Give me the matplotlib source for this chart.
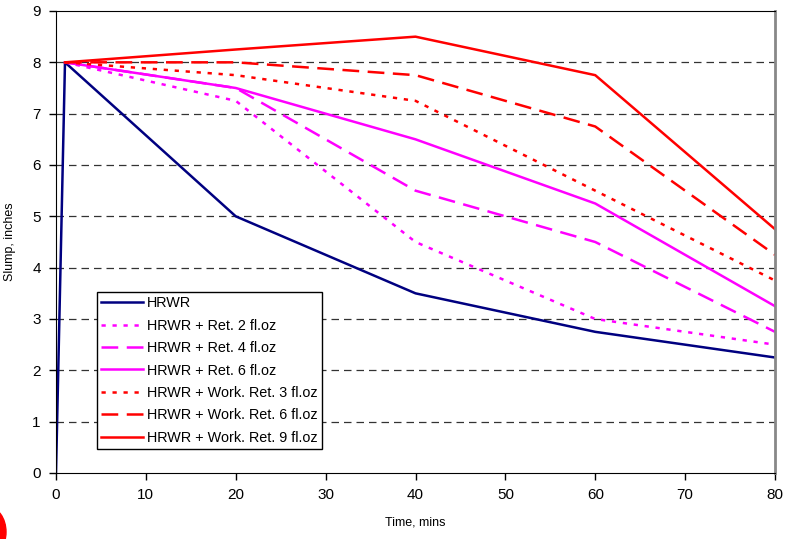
import matplotlib
matplotlib.use('Agg')
import matplotlib.pyplot as plt
from matplotlib.patches import Ellipse

plt.rcParams['font.family'] = ['Liberation Sans', 'DejaVu Sans']

# slump test data, time in minutes
hrwr_t = [0, 1, 20, 40, 60, 80]
hrwr = [0, 8, 5, 3.5, 2.75, 2.25]

t = [1, 20, 40, 60, 80]
ret2 = [8, 7.25, 4.5, 3, 2.5]
ret4 = [8, 7.5, 5.5, 4.5, 2.75]
ret6 = [8, 7.5, 6.5, 5.25, 3.25]
work3 = [8, 7.75, 7.25, 5.5, 3.75]
work6 = [8, 8, 7.75, 6.75, 4.25]
work9 = [8, 8.25, 8.5, 7.75, 4.75]

labels = ['HRWR', 'HRWR + Ret. 2 fl.oz', 'HRWR + Ret. 4 fl.oz', 'HRWR + Ret. 6 fl.oz',
          'HRWR + Work. Ret. 3 fl.oz', 'HRWR + Work. Ret. 6 fl.oz', 'HRWR + Work. Ret. 9 fl.oz']

navy = '#000080'
pink = '#FF00FF'
red = '#FF0000'
lw = 1.8
dot = (0, (1.7, 2.7))
dash = (0, (6.7, 3.4))

fig = plt.figure(figsize=(7.85, 5.39), dpi=100)
ax = fig.add_axes([56/785, 1-473/539, 719/785, 462/539])

ax.plot(hrwr_t, hrwr, color=navy, lw=lw, label=labels[0])
ax.plot(t, ret2, color=pink, lw=lw, linestyle=dot, label=labels[1])
ax.plot(t, ret4, color=pink, lw=lw, linestyle=dash, label=labels[2])
ax.plot(t, ret6, color=pink, lw=lw, label=labels[3])
ax.plot(t, work3, color=red, lw=lw, linestyle=dot, label=labels[4])
ax.plot(t, work6, color=red, lw=lw, linestyle=dash, label=labels[5])
ax.plot(t, work9, color=red, lw=lw, label=labels[6])

ax.set_xlim(0, 80)
ax.set_ylim(0, 9)
ax.set_xticks(range(0, 81, 10))
ax.set_yticks(range(0, 10))
ax.tick_params(direction='out', length=5, width=1, labelsize=11, pad=6)

for y in range(1, 9):
    ax.axhline(y, color='#333333', lw=0.9, dashes=(6, 4), zorder=0)

ax.spines['top'].set_color('black')
ax.spines['right'].set_color('#888888')
ax.spines['right'].set_linewidth(2)

ax.set_xlabel('Time, mins', fontsize=9, labelpad=10)
ax.set_ylabel('Slump, inches', fontsize=9, labelpad=12)

leg = ax.legend(loc='lower left', bbox_to_anchor=(0.057, 0.052), fontsize=10.4,
                frameon=True, fancybox=False, edgecolor='black', framealpha=1,
                handlelength=2.9, handletextpad=0.25, labelspacing=0.58,
                borderpad=0.3, borderaxespad=0)
leg.get_frame().set_linewidth(1)

# red mark at bottom-left corner of the original image
fig.patches.append(Ellipse((-12/785, 7/539), 36/785, 50/539, transform=fig.transFigure,
                           color=red, clip_on=False))

fig.savefig('out.png', dpi=100)
